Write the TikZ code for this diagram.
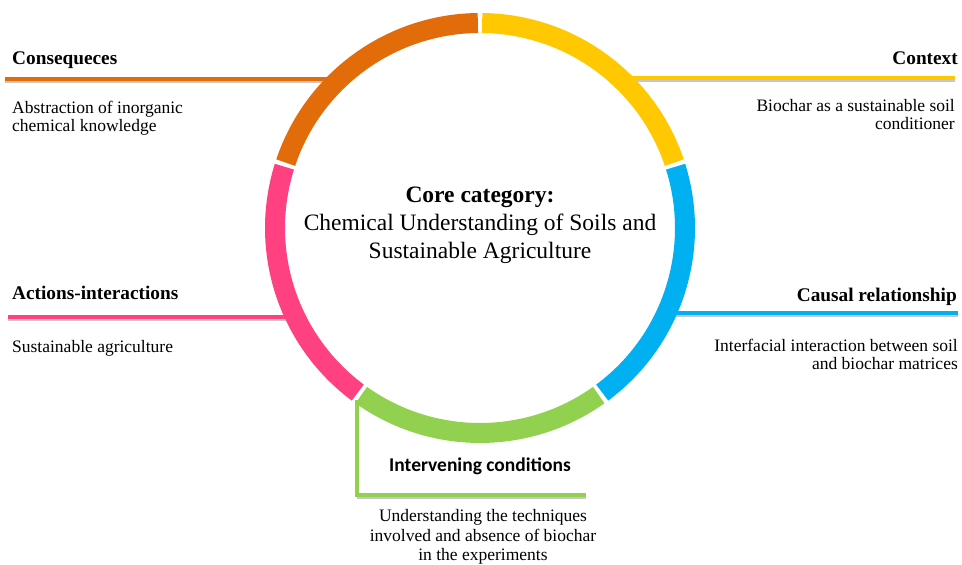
\documentclass[tikz,border=0pt]{standalone}
\usepackage{fontspec}
\setmainfont{Liberation Serif}
\newfontfamily\calibrifont{Carlito}
\usetikzlibrary{calc}

\definecolor{ringorange}{HTML}{E36C0A}
\definecolor{ringyellow}{HTML}{FFC800}
\definecolor{ringpink}{HTML}{FF4081}
\definecolor{ringblue}{HTML}{00B0F0}
\definecolor{ringgreen}{HTML}{92D050}

\begin{document}
\begin{tikzpicture}[
        %We set the scale and define some styles
        x=1pt, y=1pt,
        ring part/.style={line width=20pt},
        label line/.style={line width=3.5pt},
        shadow line/.style={line width=3pt, color=black!22, transform canvas={yshift=-2.5pt}},
        heading/.style={inner sep=0pt, font=\bfseries\fontsize{19.3}{21}\selectfont},
        body/.style={inner sep=0pt, font=\fontsize{17.5}{18.5}\selectfont},
        every node/.style={color=black},
    ]
    \useasboundingbox (0,0) rectangle (962,565);

    % Important coordinates are defined
    \coordinate (c) at (480,337);
    \def\ringradius{205}
    \coordinate (cons end) at (5,486);
    \coordinate (cons ring) at (335,486);
    \coordinate (context ring) at (625,487);
    \coordinate (context end) at (955,487);
    \coordinate (actions end) at (8,248);
    \coordinate (actions ring) at (295,248);
    \coordinate (causal ring) at (665,252);
    \coordinate (causal end) at (958,252);
    \coordinate (interv ring) at (357,165);
    \coordinate (interv corner) at (357,70);
    \coordinate (interv end) at (586,70);

    % lines under the headings, shadow first
    \draw[shadow line] (cons end) -- (cons ring);
    \draw[shadow line] (context ring) -- (context end);
    \draw[shadow line] (actions end) -- (actions ring);
    \draw[shadow line] (causal ring) -- (causal end);
    \draw[shadow line] (interv corner) -- (interv end);
    \draw[label line, ringorange] (cons end) -- (cons ring);
    \draw[label line, ringyellow] (context ring) -- (context end);
    \draw[label line, ringpink] (actions end) -- (actions ring);
    \draw[label line, ringblue] (causal ring) -- (causal end);
    \draw[label line, ringgreen] (interv ring) -- (interv corner) -- (interv end);

    % the ring is drawn in five parts
    \foreach \col/\start [evaluate=\start as \a using \start+0.6,
                          evaluate=\start as \b using \start+71.4] in
        {ringyellow/18, ringorange/90, ringpink/162, ringgreen/234, ringblue/306}
        \draw[ring part, \col] ($(c)+(\a:\ringradius)$) arc[start angle=\a, end angle=\b, radius=\ringradius];

    % core category in the middle (base is the last line)
    \node[align=center, anchor=base, inner sep=0pt, font=\fontsize{23.5}{28}\selectfont] (core) at (480,306)
        {\textbf{Core category:}\\Chemical Understanding of Soils and\\Sustainable Agriculture};

    % headings and their texts
    \node[heading, anchor=base west] (consequeces) at (12,500) {Consequeces};
    \node[body, anchor=base west, align=left] (consequeces text) at (12,433)
        {Abstraction of inorganic\\chemical knowledge};
    \node[heading, anchor=base east] (context) at (958,500) {Context};
    \node[body, anchor=base east, align=right] (context text) at (955,435)
        {Biochar as a sustainable soil\\conditioner};
    \node[heading, anchor=base west] (actions) at (12,265) {Actions-interactions};
    \node[body, anchor=base west] (actions text) at (12,212) {Sustainable agriculture};
    \node[heading, anchor=base east] (causal) at (957,263) {Causal relationship};
    \node[body, anchor=base east, align=right] (causal text) at (958,195)
        {Interfacial interaction between soil\\and biochar matrices};
    \node[inner sep=0pt, anchor=base, font=\calibrifont\bfseries\fontsize{19.5}{21}\selectfont] (interv) at (480,93)
        {Intervening conditions};
    \node[body, anchor=base, align=center, font=\fontsize{17.5}{19.5}\selectfont] (interv text) at (483,4)
        {Understanding the techniques\\involved and absence of biochar\\in the experiments};
\end{tikzpicture}
\end{document}
